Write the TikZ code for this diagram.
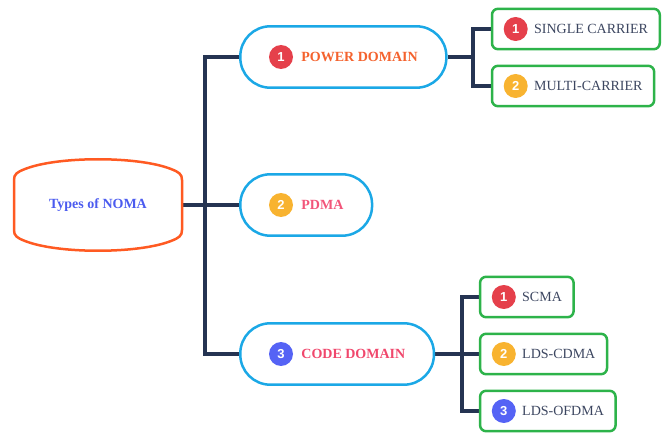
\documentclass[tikz,border=0pt]{standalone}
\usepackage{fontspec}
\setmainfont{Liberation Serif}
\newfontfamily\badgefont{Liberation Sans}
\usetikzlibrary{positioning,fit,backgrounds}

\definecolor{linknavy}{HTML}{253452}
\definecolor{rootorange}{HTML}{FF5A22}
\definecolor{rootblue}{HTML}{4B5BEF}
\definecolor{domaincyan}{HTML}{1BA8E6}
\definecolor{schemegreen}{HTML}{2DB34A}
\definecolor{numred}{HTML}{E5404B}
\definecolor{numyellow}{HTML}{F8B330}
\definecolor{numblue}{HTML}{5563F5}
\definecolor{powertext}{HTML}{F4622D}
\definecolor{pdmatext}{HTML}{F2557A}
\definecolor{codetext}{HTML}{F0476C}
\definecolor{schemetext}{HTML}{3C4660}

\tikzset {
  % tree connectors
  link/.style = {
    draw = linknavy,
    line width = 3.2pt
  },
  % numbered circle in front of a label
  badge/.style = {
    circle,
    minimum size = 24pt,
    inner sep = 0,
    text = white,
    font = \badgefont\bfseries\fontsize{13}{13}\selectfont
  },
  label text/.style = {
    inner sep = 0,
    anchor = west,
    text height = 9.3pt,
    text depth = 0pt,
    font = \fontsize{14}{14}\selectfont
  },
  % first level: pill shaped
  domainbox/.style = {
    draw = domaincyan,
    line width = 2.5pt,
    rounded corners = 30pt,
    inner xsep = 28.5pt,
    inner ysep = 18.5pt
  },
  % second level: small rounded box
  schemebox/.style = {
    draw = schemegreen,
    line width = 2.5pt,
    rounded corners = 6pt,
    inner xsep = 11.5pt,
    inner ysep = 8pt
  }
}

\begin{document}
\begin{tikzpicture}[x=1pt, y=-1pt]
    \useasboundingbox (0,0) rectangle (665,433);

    % root
    \node[minimum width = 168pt, minimum height = 68pt, text = rootblue,
      font = \bfseries\fontsize{14}{14}\selectfont] (root) at (98,205) {Types of NOMA};
    \begin{scope}[shift = {(root.center)}]
      \draw[draw = rootorange, line width = 2.5pt]
        (-84,25) -- (-84,-25)
        .. controls (-84,-31) and (-81,-32.8) .. (-73,-36)
        .. controls (-40,-49) and (40,-49) .. (73,-36)
        .. controls (81,-32.8) and (84,-31) .. (84,-25)
        -- (84,25)
        .. controls (84,31) and (81,32.8) .. (73,36)
        .. controls (40,49) and (-40,49) .. (-73,36)
        .. controls (-81,32.8) and (-84,31) .. (-84,25)
        -- cycle;
    \end{scope}

    % first level
    \node[badge, fill = numred] (power-num) at (281,57) {1};
    \node[label text, text = powertext, font = \bfseries\fontsize{14}{14}\selectfont,
      right = 8pt of power-num] (power-txt) {POWER DOMAIN};
    \node[domainbox, fit = (power-num) (power-txt)] (power) {};

    \node[badge, fill = numyellow] (pdma-num) at (281,205) {2};
    \node[label text, text = pdmatext, font = \bfseries\fontsize{14}{14}\selectfont,
      right = 8pt of pdma-num] (pdma-txt) {PDMA};
    \node[domainbox, fit = (pdma-num) (pdma-txt)] (pdma) {};

    \node[badge, fill = numblue] (code-num) at (281,354) {3};
    \node[label text, text = codetext, font = \bfseries\fontsize{14}{14}\selectfont,
      right = 8pt of code-num] (code-txt) {CODE DOMAIN};
    \node[domainbox, fit = (code-num) (code-txt)] (code) {};

    % power domain schemes
    \node[badge, fill = numred] (single-num) at (515.7,29) {1};
    \node[label text, text = schemetext, right = 6pt of single-num] (single-txt) {SINGLE CARRIER};
    \node[schemebox, fit = (single-num) (single-txt)] (single) {};

    \node[badge, fill = numyellow] (multi-num) at (515.7,86) {2};
    \node[label text, text = schemetext, right = 6pt of multi-num] (multi-txt) {MULTI-CARRIER};
    \node[schemebox, fit = (multi-num) (multi-txt)] (multi) {};

    % code domain schemes
    \node[badge, fill = numred] (scma-num) at (503.8,297) {1};
    \node[label text, text = schemetext, right = 6pt of scma-num] (scma-txt) {SCMA};
    \node[schemebox, fit = (scma-num) (scma-txt)] (scma) {};

    \node[badge, fill = numyellow] (cdma-num) at (503.8,354) {2};
    \node[label text, text = schemetext, right = 6pt of cdma-num] (cdma-txt) {LDS-CDMA};
    \node[schemebox, fit = (cdma-num) (cdma-txt)] (cdma) {};

    \node[badge, fill = numblue] (ofdma-num) at (503.8,411) {3};
    \node[label text, text = schemetext, right = 6pt of ofdma-num] (ofdma-txt) {LDS-OFDMA};
    \node[schemebox, fit = (ofdma-num) (ofdma-txt)] (ofdma) {};

    \coordinate (fork) at (205,205);
    \coordinate (power-fork) at (473,57);
    \coordinate (code-fork) at (462,354);

    \begin{scope}[on background layer]
      % trunk
      \draw[link] (root.east) -- (pdma.west);
      \draw[link] (power.west) -| (fork) |- (code.west);

      % power domain branch
      \draw[link] (power.east) -- (power-fork);
      \draw[link] (single.west) -| (power-fork) |- (multi.west);

      % code domain branch
      \draw[link] (code.east) -- (cdma.west);
      \draw[link] (scma.west) -| (code-fork) |- (ofdma.west);
    \end{scope}
\end{tikzpicture}
\end{document}
